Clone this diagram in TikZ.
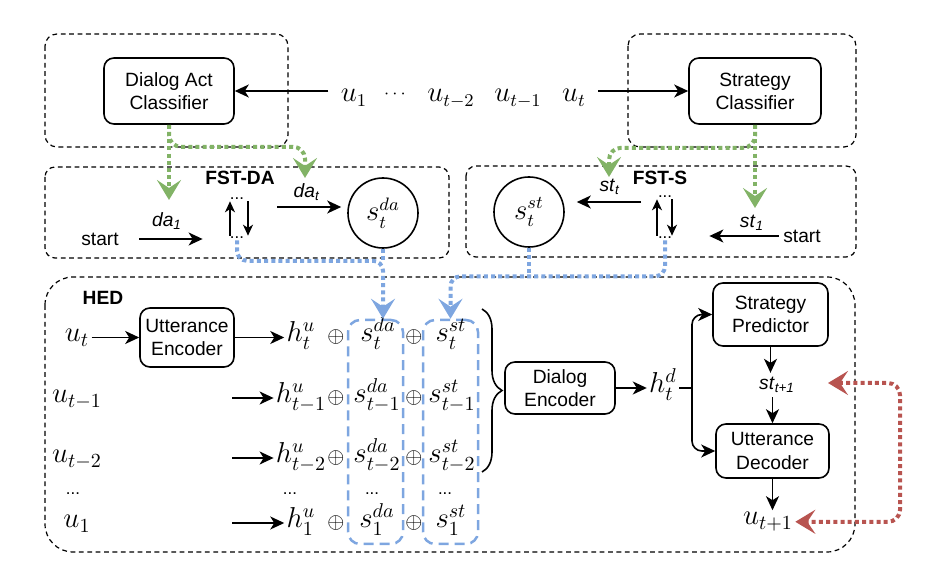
\documentclass[tikz,border=0pt]{standalone}
\usepackage[no-math]{fontspec}
\setmainfont{Liberation Sans}
\usetikzlibrary{arrows.meta,positioning,decorations.pathreplacing}
\definecolor{dagreen}{HTML}{82B366}
\definecolor{dablue}{HTML}{7EA6E0}
\definecolor{dared}{HTML}{B85450}

\begin{document}
\begin{tikzpicture}[x=0.5pt,y=-0.5pt,
  blk/.style={draw,line width=0.8pt,rounded corners=5pt,align=center,
              font=\fontsize{9.6}{11.6}\selectfont,inner sep=1pt},
  grp/.style={draw,line width=0.6pt,dash pattern=on 2.4pt off 1.8pt},
  stnode/.style={draw,circle,line width=0.8pt,minimum size=35pt,inner sep=0pt,
                 font=\fontsize{13.5}{16}\selectfont},
  mth/.style={font=\fontsize{14}{16}\selectfont,inner sep=1pt,anchor=base},
  txt/.style={font=\fontsize{9.6}{11.6}\selectfont,inner sep=2pt},
  ttl/.style={font=\fontsize{9.6}{11.6}\selectfont\bfseries,inner sep=1pt},
  ell/.style={font=\fontsize{8.4}{9}\selectfont,inner sep=0.5pt},
  pl/.style={font=\fontsize{11}{12}\selectfont,inner sep=0pt},
  colbox/.style={draw=dablue,line width=1.25pt,dash pattern=on 5pt off 3pt,
                 rounded corners=6pt,minimum width=27.5pt,minimum height=112pt},
  arr/.style={-{Stealth[length=7pt,width=6.5pt,inset=2pt]},line width=0.8pt},
  sarr/.style={-{Stealth[length=5.5pt,width=5pt,inset=1.6pt]},line width=0.8pt},
  fat/.style={line width=2pt,dash pattern=on 2pt off 1.6pt},
  bigtip/.style={-{Stealth[length=10pt,width=12pt,inset=4pt]}},
  bothtips/.style={{Stealth[length=10pt,width=12pt,inset=4pt]}-{Stealth[length=10pt,width=12pt,inset=4pt]}}
]
\useasboundingbox (0,0) rectangle (939,587);

% classifiers
\draw[grp,rounded corners=6pt] (45,34) rectangle (288,147);
\draw[grp,rounded corners=6pt] (628,34) rectangle (856,147);
\node[blk,minimum width=65pt,minimum height=33pt] (dac) at (169,91) {Dialog Act\\Classifier};
\node[blk,minimum width=66pt,minimum height=33pt] (sc) at (755,91) {Strategy\\Classifier};
\node[mth,font=\fontsize{13.5}{16}\selectfont,inner sep=6pt] (u1) at (354,102) {$u_1$};
\node[font=\fontsize{9}{10}\selectfont] (udots) at (395,94) {$\cdots$};
\node[mth,font=\fontsize{13.5}{16}\selectfont] (ut2) at (451,102) {$u_{t-2}$};
\node[mth,font=\fontsize{13.5}{16}\selectfont] (ut1) at (518,102) {$u_{t-1}$};
\node[mth,font=\fontsize{13.5}{16}\selectfont,inner sep=6pt] (utop) at (574,102) {$u_t$};
\draw[arr] (dac -| u1.west) -- (dac.east);
\draw[arr] (sc -| utop.east) -- (sc.west);

% FST-DA
\draw[grp,rounded corners=5pt] (45,167) rectangle (449,258);
\node[ttl] (fstda) at (240,178) {FST-DA};
\node[txt] (sta) at (100,239) {start};
\node[txt] (lda1) at (167,221) {\textit{da}\textsubscript{\textit{1}}};
\node[ell] (dd1) at (237,199) {...};
\node[ell] (dd2) at (237,238) {...};
\draw[arr,shorten <=8pt,shorten >=13pt] (sta) -- (sta -| dd2.west);
\draw[sarr] ([xshift=-3.5pt]dd2.north) -- ([xshift=-3.5pt]dd1.south);
\draw[sarr] ([xshift=5.5pt]dd1.south) -- ([xshift=5.5pt]dd2.north);
\node[stnode] (sda) at (383,213) {$s_t^{da}$};
\coordinate (dat0) at (277,207);
\draw[arr,shorten >=3pt] (dat0) -- (dat0 -| sda.west);
\node[txt] (ldat) at (307,192) {\textit{da}\textsubscript{\textit{t}}};

% FST-S
\draw[grp,rounded corners=5pt] (466,166) rectangle (856,257);
\node[ttl] (fsts) at (660,178) {FST-S};
\node[stnode] (sst) at (529,212) {$s_t^{st}$};
\coordinate (stt0) at (641,202);
\draw[arr,shorten >=6pt] (stt0) -- (stt0 -| sst.east);
\node[txt] (lstt) at (610,187) {\textit{st}\textsubscript{\textit{t}}};
\node[ell] (sd1) at (665,197) {...};
\node[ell] (sd2) at (665,238) {...};
\draw[sarr] ([xshift=-4pt]sd2.north) -- ([xshift=-4pt]sd1.south);
\draw[sarr] ([xshift=3.5pt]sd1.south) -- ([xshift=3.5pt]sd2.north);
\node[txt] (stb) at (802,236) {start};
\draw[arr,shorten >=18pt] (stb) -- (stb -| sd2.east);
\node[txt] (lst1) at (752,223) {\textit{st}\textsubscript{\textit{1}}};

% classifier outputs
\coordinate (gda) at (169,200);
\coordinate (gdat) at (305,178);
\coordinate (gst) at (755,208);
\coordinate (gstt) at (609,177);
\draw[fat,dagreen,bigtip] (dac.south) -- (gda);
\draw[fat,dagreen,bigtip,rounded corners=6pt] (dac.south) -- ++(0,22) -| (gdat);
\draw[fat,dagreen,bigtip] (sc.south) -- (gst);
\draw[fat,dagreen,bigtip,rounded corners=6pt] (sc.south) -- ++(0,23) -| (gstt);

% HED
\draw[grp,rounded corners=14pt] (45,277) rectangle (855,552);
\node[ttl] (hed) at (103,298) {HED};
\node[colbox] (cda) at (375.5,432) {};
\node[colbox] (cst) at (450.5,432) {};

\node[mth] (ur1) at (77,342) {$u_t$};
\node[mth] (ur2) at (77,403) {$u_{t-1}$};
\node[mth] (ur3) at (77,463) {$u_{t-2}$};
\node[ell] (urd) at (73,494) {...};
\node[mth] (ur4) at (77,528) {$u_1$};

\node[blk,minimum width=47pt,minimum height=29.5pt] (ue) at (187,337.5) {Utterance\\Encoder};
\draw[arr] (ue -| ur1.east) -- (ue.west);

\node[mth] (hr1) at (301,342) {$h_t^u$};
\node[mth] (hr2) at (301,403) {$h_{t-1}^u$};
\node[mth] (hr3) at (301,463) {$h_{t-2}^u$};
\node[ell] (hrd) at (290,494) {...};
\node[mth] (hr4) at (301,528) {$h_1^u$};
\coordinate (in2) at (232,398);
\coordinate (in3) at (232,458);
\coordinate (in4) at (232,523);
\draw[arr] (ue.east) -- (ue -| hr1.west);
\draw[arr] (in2) -- (in2 -| hr2.west);
\draw[arr] (in3) -- (in3 -| hr3.west);
\draw[arr] (in4) -- (in4 -| hr4.west);

\node[pl] (pa1) at (336,337) {$\oplus$};
\node[pl] (pa2) at (336,398) {$\oplus$};
\node[pl] (pa3) at (336,458) {$\oplus$};
\node[pl] (pa4) at (336,523) {$\oplus$};
\node[pl] (pb1) at (414,337) {$\oplus$};
\node[pl] (pb2) at (414,398) {$\oplus$};
\node[pl] (pb3) at (414,458) {$\oplus$};
\node[pl] (pb4) at (414,523) {$\oplus$};

\node[mth] (dr1) at (378,342) {$s_t^{da}$};
\node[mth] (dr2) at (377,403) {$s_{t-1}^{da}$};
\node[mth] (dr3) at (377,463) {$s_{t-2}^{da}$};
\node[ell] (drd) at (372,494) {...};
\node[mth] (dr4) at (377,528) {$s_1^{da}$};
\node[mth] (sr1) at (451,342) {$s_t^{st}$};
\node[mth] (sr2) at (452,403) {$s_{t-1}^{st}$};
\node[mth] (sr3) at (452,463) {$s_{t-2}^{st}$};
\node[ell] (srd) at (445,494) {...};
\node[mth] (sr4) at (451,528) {$s_1^{st}$};

% FST states into HED
\draw[fat,dablue,bigtip,rounded corners=5pt] (dd2.south) |- ([yshift=-6pt]sda.south) -- (sda.south |- cda.north);
\draw[fat,dablue] (sda.south) -- ([yshift=-6pt]sda.south);
\draw[fat,dablue,bigtip,rounded corners=5pt] (sd2.south) -- ++(0,36) -| (cst.north);
\draw[fat,dablue] (sst.south) -- ([yshift=-14.5pt]sst.south);

\draw[decorate,decoration={brace,amplitude=10pt},line width=0.8pt] (482,309) -- (482,472);
\node[blk,minimum width=55pt,minimum height=26pt] (de) at (560,388) {Dialog\\Encoder};
\node[mth] (hd) at (663,393) {$h_t^d$};
\draw[arr] (de.east) -- (de -| hd.west);
\coordinate (hj) at (692,388);
\draw[line width=0.8pt] (de -| hd.east) -- (hj);

\node[blk,minimum width=57.5pt,minimum height=31.5pt] (sp) at (770.5,314.5) {Strategy\\Predictor};
\node[txt] (stp) at (777,385) {\textit{st}\textsubscript{\textit{t+1}}};
\node[blk,minimum width=56.5pt,minimum height=27pt] (ud) at (772.5,451) {Utterance\\Decoder};
\node[mth] (utp) at (768,525) {$u_{t+1}$};
\draw[arr,rounded corners=5pt] (hj) |- (sp.west);
\draw[arr,rounded corners=5pt] (hj) |- (ud.west);
\draw[arr] (sp.south) -- (sp.south |- stp.north);
\draw[arr] (ud.north |- stp.south) -- (ud.north);
\draw[arr] (ud.south) -- (ud.south |- utp.north);

\coordinate (rst) at (828,383);
\draw[fat,dared,bothtips,rounded corners=6pt] (rst) -- ++(72,0) |- (utp.east);
\end{tikzpicture}
\end{document}
